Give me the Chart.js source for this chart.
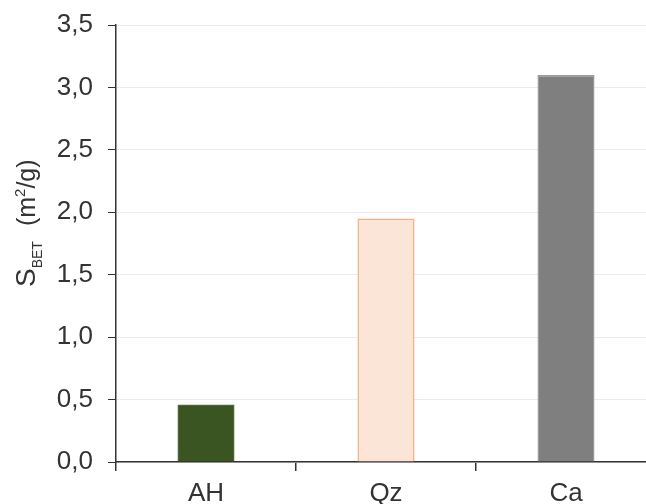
<!DOCTYPE html>
<html>
<head>
<meta charset="utf-8">
<script src="https://cdn.jsdelivr.net/npm/chart.js@4"></script>
<style>
html,body{margin:0;padding:0;background:#fff;overflow:hidden;}
#wrap{width:666px;height:504px;position:relative;}
</style>
</head>
<body>
<div id="wrap"><canvas id="c" width="666" height="504"></canvas></div>
<script>
const categories = ['AH', 'Qz', 'Ca'];
const sbetValues = [0.46, 1.95, 3.1];
const barColors = ['#3a5422', '#fbe5d6', '#7f7f7f'];
const barBorders = ['#4c6634', '#f4b183', '#9a9a9a'];
const yTickLabels = ['0,0', '0,5', '1,0', '1,5', '2,0', '2,5', '3,0', '3,5'];

const FONT = 'Arial, "Liberation Sans", sans-serif';
const TXT = '#333333';

const titlePlugin = {
  id: 'ytitle',
  afterDraw(chart) {
    const ctx = chart.ctx;
    ctx.save();
    ctx.translate(35, 287);
    ctx.rotate(-Math.PI / 2);
    ctx.fillStyle = TXT;
    ctx.textBaseline = 'alphabetic';
    ctx.textAlign = 'left';
    let x = 0;
    const part = (t, size, dy) => {
      ctx.font = size + 'px ' + FONT;
      ctx.fillText(t, x, dy);
      x += ctx.measureText(t).width;
    };
    part('S', 28, 0);
    part('BET', 14, 7);
    x += 15;
    part('(m', 25, 0);
    part('2', 15, -10);
    part('/g)', 25, 0);
    ctx.restore();
  }
};

new Chart(document.getElementById('c'), {
  type: 'bar',
  data: {
    labels: categories,
    datasets: [{
      data: sbetValues,
      backgroundColor: barColors,
      borderColor: barBorders,
      borderWidth: 1.5,
      barPercentage: 0.317,
      categoryPercentage: 1.0
    }]
  },
  options: {
    responsive: false,
    animation: false,
    layout: { padding: { left: 0, top: 25, right: 10, bottom: 0 } },
    plugins: { legend: { display: false }, tooltip: { enabled: false } },
    scales: {
      x: {
        afterFit(s) { s.height = 42; s.paddingLeft = 0; s.paddingRight = 0; },
        grid: { drawOnChartArea: false, tickColor: '#333', tickLength: 9, lineWidth: 1.5 },
        border: { color: '#333', width: 1.5 },
        ticks: { color: TXT, font: { family: FONT, size: 26 }, padding: 7 }
      },
      y: {
        min: 0, max: 3.5,
        afterFit(s) { s.width = 116; s.paddingTop = 0; s.paddingBottom = 0; },
        grid: { color: '#ebebeb', lineWidth: 1, tickColor: '#333', tickLength: 8 },
        border: { color: '#333', width: 1.5 },
        ticks: {
          stepSize: 0.5,
          color: TXT,
          font: { family: FONT, size: 26 },
          padding: 15,
          callback: (v, i) => yTickLabels[i]
        }
      }
    }
  },
  plugins: [titlePlugin]
});
</script>
</body>
</html>
